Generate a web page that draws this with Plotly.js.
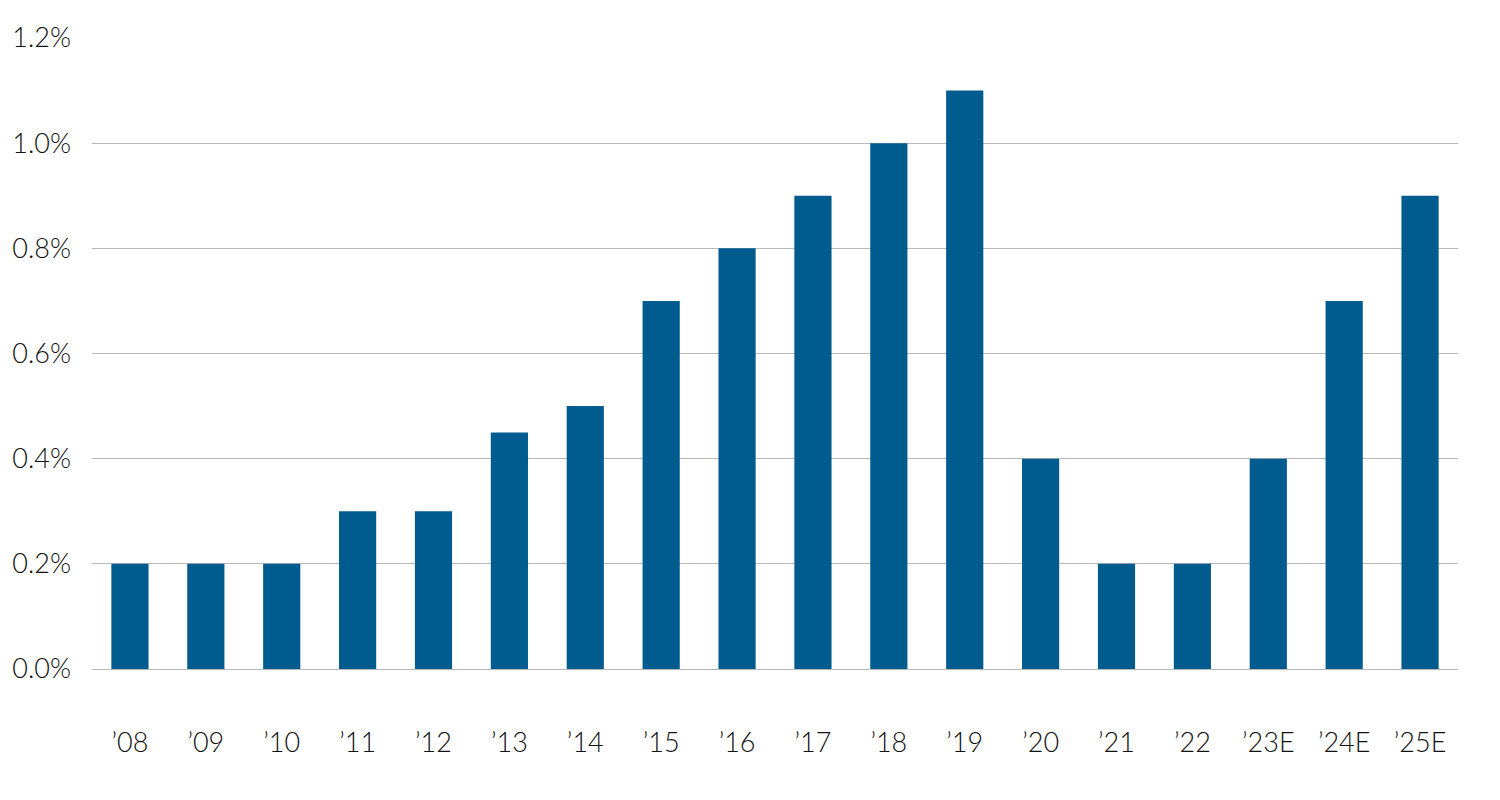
<!DOCTYPE html>
<html>
<head>
<meta charset="utf-8">
<script src="https://cdn.plot.ly/plotly-3.0.1.min.js"></script>
<style>html,body{margin:0;padding:0;background:#fff;}#chart{width:1500px;height:800px;}</style>
</head>
<body>
<div id="chart"></div>
<script>
const categories = ["’08","’09","’10","’11","’12","’13","’14","’15","’16","’17","’18","’19","’20","’21","’22","’23E","’24E","’25E"];
const values = [0.2,0.2,0.2,0.3,0.3,0.45,0.5,0.7,0.8,0.9,1.0,1.1,0.4,0.2,0.2,0.4,0.7,0.9];
const yTicks = [0,0.2,0.4,0.6,0.8,1.0,1.2];

const trace = {
  type: 'bar',
  x: categories,
  y: values,
  marker: {color: '#005B8F', line: {width: 0}},
  hoverinfo: 'x+y'
};

const layout = {
  width: 1500, height: 800,
  margin: {l: 92, r: 42, t: 38, b: 131},
  paper_bgcolor: '#fff', plot_bgcolor: '#fff',
  bargap: 0.51,
  showlegend: false,
  font: {family: 'Lato, "Open Sans", sans-serif', size: 27, color: '#111', weight: 300},
  xaxis: {
    type: 'category',
    showgrid: false, zeroline: false, showline: false, ticks: '',
    ticklabelstandoff: 55,
    tickfont: {size: 27, color: '#111', weight: 300}
  },
  yaxis: {
    range: [0, 1.2],
    tickvals: yTicks,
    ticktext: yTicks.map(v => v.toFixed(1) + '%'),
    showgrid: true, gridcolor: '#b8b8b8', gridwidth: 1,
    zeroline: true, zerolinecolor: '#b8b8b8', zerolinewidth: 1,
    showline: false, ticks: '',
    ticklabelstandoff: 20,
    tickfont: {size: 27, color: '#111', weight: 300}
  }
};

Plotly.newPlot('chart', [trace], layout, {displayModeBar: false, staticPlot: true});
</script>
</body>
</html>
